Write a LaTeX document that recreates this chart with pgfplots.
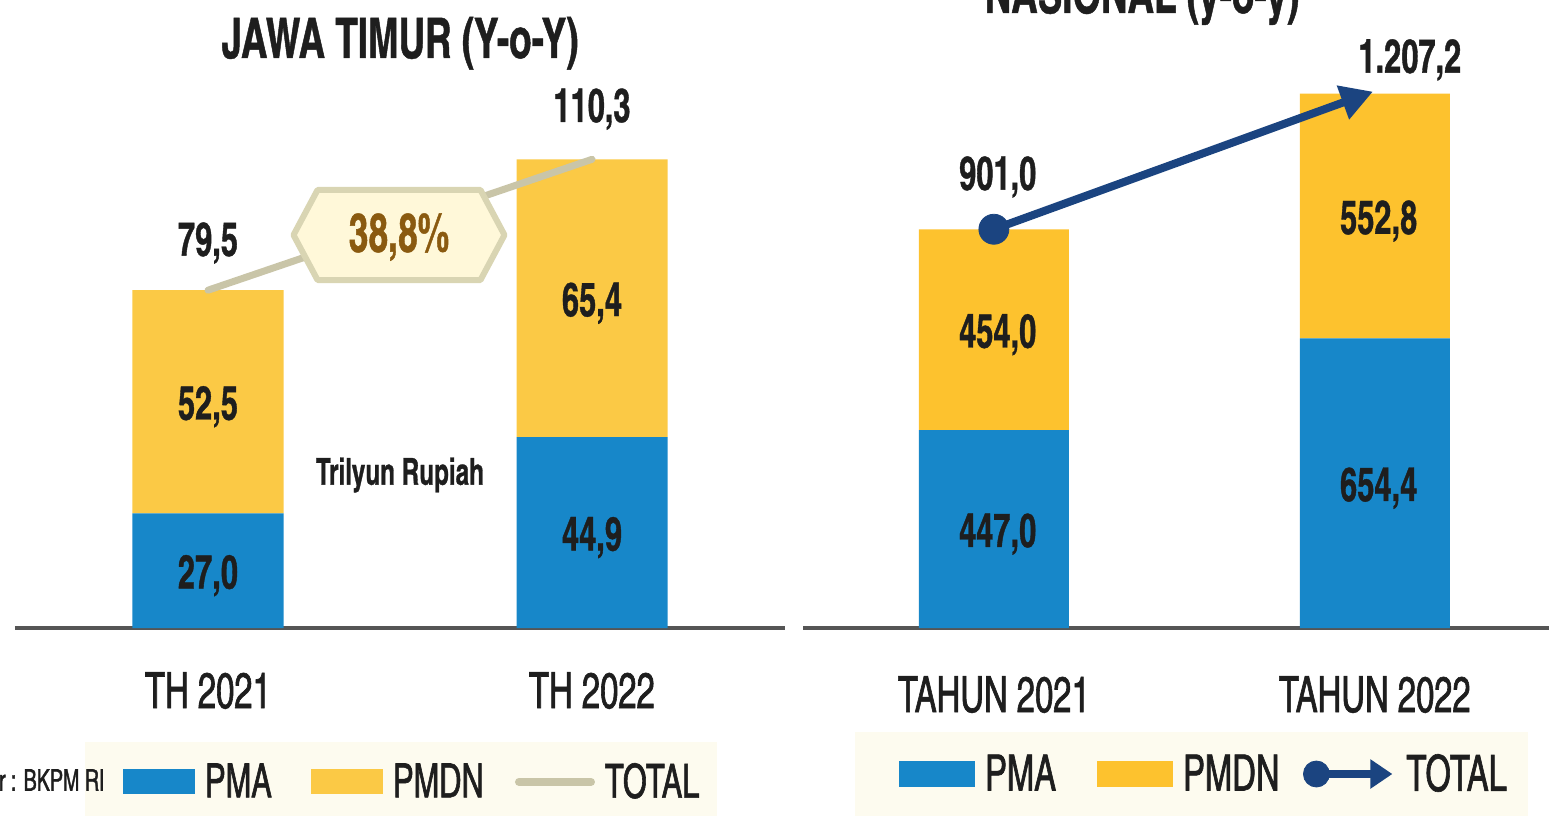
\documentclass[border=0pt]{standalone}
\usepackage{pgfplots}
\pgfplotsset{compat=1.18}
\usetikzlibrary{arrows.meta}
\usepackage{fontspec}
\setmainfont{texgyreheroscn}[Extension=.otf, UprightFont=*-regular, BoldFont=*-bold, ItalicFont=*-italic, BoldItalicFont=*-bolditalic, FakeStretch=0.8]
\newfontfamily\medfont{texgyreheroscn}[Extension=.otf, UprightFont=*-regular, FakeStretch=0.8, FakeBold=1.2]
\newfontfamily\heavyfont{texgyreheroscn}[Extension=.otf, UprightFont=*-bold, FakeStretch=0.8, FakeBold=0.8]
\definecolor{pma}{HTML}{1787C9}
\definecolor{pmdnL}{HTML}{FBC945}
\definecolor{pmdnR}{HTML}{FDC22E}
\definecolor{totalgray}{HTML}{C9C5A8}
\definecolor{badgefill}{HTML}{FFF8D9}
\definecolor{badgeborder}{HTML}{D9D5B3}
\definecolor{badgetext}{HTML}{8A5A10}
\definecolor{navy}{HTML}{1B4480}
\definecolor{legbg}{HTML}{FDFBEF}
\definecolor{axisgray}{HTML}{555555}
\definecolor{txt}{HTML}{1E1E1E}
\newcommand\lblfont{\fontsize{23.5}{24}\heavyfont}
\newcommand\tickfont{\fontsize{25}{26}\medfont}
\newcommand\legfontL{\fontsize{23.5}{24}\medfont}
\newcommand\legfontR{\fontsize{25}{26}\medfont}
\newcommand\titlefont{\fontsize{28}{29}\heavyfont}
\tikzset{lbl/.style={font=\lblfont, text=txt, inner sep=0pt, yshift=-2.5pt}}
\begin{document}
\begin{tikzpicture}
\useasboundingbox (0,0) rectangle (774.5pt,408pt);
\clip (0,0) rectangle (774.5pt,408pt);
% legend backgrounds
\fill[legbg] (42.5pt,0pt) rectangle (358.5pt,37pt);
\fill[legbg] (427.5pt,0pt) rectangle (764pt,42pt);
% titles and source
\node[font=\titlefont, text=txt, anchor=base] at (200pt,379pt) {JAWA TIMUR (Y-o-Y)};
\node[font=\titlefont, text=txt, anchor=base] at (571pt,401.5pt) {NASIONAL (y-o-y)};
\node[font=\fontsize{15}{16}\medfont, text=txt, anchor=east, inner sep=0pt] at (52.5pt,18pt) {Sumber : BKPM RI};

% ===== LEFT: JAWA TIMUR =====
\begin{axis}[
  at={(7.5pt,94pt)}, anchor=south west, scale only axis,
  width=385pt, height=314pt,
  xmin=-0.5026, xmax=1.5026, ymin=0, ymax=147.8,
  ybar stacked, bar width=75.5pt,
  axis line style={draw=none}, ytick=\empty,
  xtick={0,1}, xticklabels={TH 2021,TH 2022}, tick style={draw=none},
  xticklabel style={anchor=base, yshift=-40pt, font=\tickfont, text=txt},
  clip=false,
  legend columns=-1, legend cell align=left,
  legend style={at={(axis description cs:0.14026,-0.2452)}, anchor=west,
    draw=none, fill=none, inner sep=0pt, outer sep=0pt, font=\legfontL, text=txt,
    nodes={inner xsep=0pt, inner ysep=0pt},
    /tikz/every odd column/.append style={column sep=5pt}},
]
\addplot[fill=pma, draw=none, legend image code/.code={\path[draw=none,fill=none] (0pt,-9.5pt) rectangle (36pt,8.5pt); \fill[pma] (0pt,-6pt) rectangle (36pt,6.5pt);}]
  coordinates {(0,27.0) (1,44.9)};
\addlegendentry[text width=53pt]{PMA}
\addplot[fill=pmdnL, draw=none, legend image code/.code={\path[draw=none,fill=none] (0pt,-9.5pt) rectangle (36pt,8.5pt); \fill[pmdnL] (0pt,-6pt) rectangle (36pt,6.5pt);}]
  coordinates {(0,52.5) (1,65.4)};
\addlegendentry[text width=61pt]{PMDN}
\addlegendimage{legend image code/.code={\path[draw=none,fill=none] (0pt,-9.5pt) rectangle (37.5pt,8.5pt); \draw[totalgray, line width=4pt, line cap=round] (2pt,0pt) -- (38pt,0pt);}}
\addlegendentry[text width=50pt]{TOTAL}
\draw[axisgray, line width=2pt] (rel axis cs:0,0) -- (rel axis cs:1,0);
\node[font=\fontsize{18.5}{19}\heavyfont, text=txt] at (axis cs:0.5,36) {Trilyun Rupiah};
\end{axis}
\begin{axis}[
  at={(7.5pt,94pt)}, anchor=south west, scale only axis,
  width=385pt, height=314pt,
  xmin=-0.5026, xmax=1.5026, ymin=0, ymax=147.8,
  hide axis, clip=false,
]
\addplot[totalgray, line width=3.5pt, line cap=round] coordinates {(0,79.5) (1,110.3)};
\node[lbl] at (axis cs:0,13.5) {27,0};
\node[lbl] at (axis cs:0,53.25) {52,5};
\node[lbl] at (axis cs:1,22.45) {44,9};
\node[lbl] at (axis cs:1,77.6) {65,4};
\node[lbl] at (axis cs:0,91.8) {79,5};
\node[lbl] at (axis cs:1,123.3) {110,3};
\end{axis}
% badge
\draw[line width=3pt, draw=badgeborder, fill=badgefill, line join=round]
  (199.5pt,290.5pt) ++(-52.75pt,0pt) -- ++(12pt,22.5pt) -- ++(81.5pt,0pt) -- ++(12pt,-22.5pt)
  -- ++(-12pt,-22.5pt) -- ++(-81.5pt,0pt) -- cycle;
\node[font=\fontsize{27}{28}\heavyfont, text=badgetext, inner sep=0pt] at (199.5pt,289.5pt) {38,8\%};

% ===== RIGHT: NASIONAL =====
\begin{axis}[
  at={(401.5pt,94pt)}, anchor=south west, scale only axis,
  width=373pt, height=314pt,
  xmin=-0.501, xmax=1.457, ymin=0, ymax=1419,
  ybar stacked, bar width=75pt,
  axis line style={draw=none}, ytick=\empty,
  xtick={0,1}, xticklabels={TAHUN 2021,TAHUN 2022}, tick style={draw=none},
  xticklabel style={anchor=base, yshift=-42pt, font=\tickfont, text=txt},
  clip=false,
  legend columns=-1, legend cell align=left,
  legend style={at={(axis description cs:0.1287,-0.2325)}, anchor=west,
    draw=none, fill=none, inner sep=0pt, outer sep=0pt, font=\legfontR, text=txt,
    nodes={inner xsep=0pt, inner ysep=0pt},
    /tikz/every odd column/.append style={column sep=5pt}},
]
\addplot[fill=pma, draw=none, legend image code/.code={\path[draw=none,fill=none] (0pt,-9.5pt) rectangle (38pt,8.5pt); \fill[pma] (0pt,-6.5pt) rectangle (38pt,6.5pt);}]
  coordinates {(0,447.0) (1,654.4)};
\addlegendentry[text width=56pt]{PMA}
\addplot[fill=pmdnR, draw=none, legend image code/.code={\path[draw=none,fill=none] (0pt,-9.5pt) rectangle (38pt,8.5pt); \fill[pmdnR] (0pt,-6.5pt) rectangle (38pt,6.5pt);}]
  coordinates {(0,454.0) (1,552.8)};
\addlegendentry[text width=60pt]{PMDN}
\addlegendimage{legend image code/.code={\path[draw=none,fill=none] (0pt,-9.5pt) rectangle (42pt,8.5pt); \fill[navy] (6.5pt,0pt) circle (6.5pt); \draw[navy, line width=4pt, -{Triangle[length=11pt,width=14pt]}] (6.5pt,0pt) -- (44.5pt,0pt);}}
\addlegendentry[text width=55pt]{TOTAL}
\draw[axisgray, line width=2pt] (rel axis cs:0,0) -- (rel axis cs:1,0);
\end{axis}
\begin{axis}[
  at={(401.5pt,94pt)}, anchor=south west, scale only axis,
  width=373pt, height=314pt,
  xmin=-0.501, xmax=1.457, ymin=0, ymax=1419,
  hide axis, clip=false,
]
\addplot[navy, line width=4pt, -{Triangle[length=16pt,width=17pt]}] coordinates {(0,901.0) (0.995,1212)};
\addplot[only marks, mark=*, mark size=7.5pt, mark options={fill=navy, draw=navy}] coordinates {(0,901.0)};
\node[lbl] at (axis cs:0.01,223.5) {447,0};
\node[lbl] at (axis cs:0.01,674) {454,0};
\node[lbl] at (axis cs:1.01,327.2) {654,4};
\node[lbl] at (axis cs:1.01,930.8) {552,8};
\node[lbl] at (axis cs:0.01,1030.5) {901,0};
\node[lbl] at (axis cs:1.092,1295) {1.207,2};
\end{axis}
\end{tikzpicture}
\end{document}
